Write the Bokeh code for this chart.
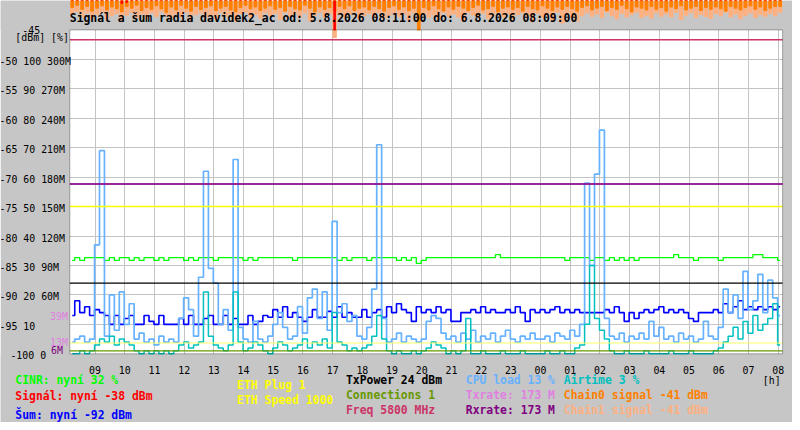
import numpy as np
from bokeh.plotting import figure
from bokeh.models import Range1d, Label, BoxAnnotation, FixedTicker
from bokeh.embed import file_html
from bokeh.resources import INLINE

# ---------------- data ----------------
title_text = "Signál a šum radia davidek2_ac od: 5.8.2026 08:11:00 do: 6.8.2026 08:09:00"
hour_ticks = list(range(9, 33))
hour_labels = ["09", "10", "11", "12", "13", "14", "15", "16", "17", "18", "19", "20",
               "21", "22", "23", "00", "01", "02", "03", "04", "05", "06", "07", "08"]
y_ticks_dbm = [-100, -95, -90, -85, -80, -75, -70, -65, -60, -55, -50]
y_tick_labels = ["-100 0", "-95 10", "-90 20 60M", "-85 30 90M", "-80 40 120M", "-75 50 150M",
                 "-70 60 180M", "-65 70 210M", "-60 80 240M", "-55 90 270M", "-50 100 300M"]
top_tick_dbm = -45
top_tick_label = "-45"
units_label = "[dBm] [%]"
rate_marks_violet = [39, 13]
rate_marks_purple = [6]

start_h = 8.15     # 08:09
end_h = 32.15      # 08:09 next day

# 10-minute samples (144)
cinr = [31.7, 32.7, 31.7, 32.7, 32.7, 32.7, 32.7, 31.7, 32.7, 31.7,
        32.7, 32.7, 31.7, 32.7, 31.7, 32.7, 32.7, 31.7, 32.7, 31.7,
        32.7, 32.7, 32.7, 31.7, 32.7, 31.7, 32.7, 32.7, 32.7, 31.7,
        32.7, 32.7, 32.7, 32.7, 32.7, 31.7, 32.7, 31.7, 32.7, 32.7,
        32.7, 32.7, 32.7, 32.7, 32.7, 31.7, 32.7, 32.7, 32.7, 32.7,
        32.7, 32.7, 32.7, 32.7, 31.7, 32.7, 31.7, 32.7, 32.7, 32.7,
        31.7, 32.7, 32.7, 32.7, 32.7, 32.7, 31.7, 32.7, 31.7, 32.7,
        30.7, 31.7, 32.7, 32.7, 32.7, 32.7, 32.7, 32.7, 32.7, 32.7,
        32.7, 32.7, 32.7, 32.7, 32.7, 32.7, 33.7, 32.7, 32.7, 32.7,
        32.7, 32.7, 32.7, 32.7, 32.7, 32.7, 32.7, 32.7, 32.7, 32.7,
        31.7, 32.7, 32.7, 32.7, 32.7, 31.7, 32.7, 32.7, 31.7, 32.7,
        31.7, 32.7, 31.7, 32.7, 31.7, 32.7, 32.7, 32.7, 32.7, 32.7,
        32.7, 32.7, 33.7, 32.7, 32.7, 32.7, 31.7, 32.7, 32.7, 32.7,
        32.7, 31.7, 32.7, 32.7, 32.7, 32.7, 32.7, 32.7, 33.7, 33.7,
        32.7, 32.7, 32.7, 31.7]

noise = [-93.5, -91, -93, -92, -93.5, -92.5, -93, -93.5,
         -95, -93.5, -95, -94, -93.5, -95, -95, -93.5, -94.5, -95, -93.5, -95, -95, -95, -94, -95,
         -93.5, -95, -95, -94, -93.5, -95, -95, -93.5, -95, -94, -95, -95, -93.5, -95, -94.5, -93.5,
         -93.8, -92.5, -93.8, -92, -93.8, -93, -93.8, -94.5, -93.8, -92.5, -93.8, -93.8, -92.8, -93.8,
         -92, -93.8, -93, -93.8, -93.8, -92.5, -93.8, -93, -92.5, -93.8,
         -92, -93, -91.5, -92.5, -93, -94.5, -92, -93,
         -92.5, -93, -92, -93, -92.5, -94.5, -94.5, -93,
         -93, -92.5, -93, -92, -93, -92.5, -93, -93,
         -92.5, -93, -92, -93, -94.5, -92.5, -93, -92.5,
         -93, -92.5, -92, -93, -92.5, -93, -92.5, -93,
         -93, -93, -93, -93,
         -92.5, -93, -92, -93, -94.5, -93, -94, -93,
         -92.5, -93, -92.5, -92, -93, -92.5, -93, -92.5,
         -93, -94, -94.5, -93,
         -93, -93, -92.5, -93,
         -91.5, -93, -92, -91, -92.5, -92, -92.5, -92, -92.5, -92, -92.5, -92]

cpu_load = [4, 5, 6, 4, 5, 37, 69, 6, 20, 8,
            21, 10, 17, 5, 7, 4, 5, 3, 6, 4,
            5, 4, 12, 19, 15, 6, 26, 62, 29, 24,
            10, 15, 8, 66, 9, 5, 4, 11, 5, 4,
            6, 10, 14, 9, 5, 6, 16, 7, 19, 22,
            12, 21, 8, 45, 14, 17, 11, 13, 6, 5,
            9, 22, 71, 12, 4, 5, 7, 4, 6, 5,
            4, 5, 11, 13, 12, 7, 5, 6, 4, 7,
            5, 8, 4, 6, 5, 7, 4, 6, 8, 5,
            4, 6, 5, 7, 5, 5, 6, 4, 7, 6,
            5, 8, 6, 10, 58, 30, 61, 76, 12, 6,
            5, 7, 4, 6, 5, 7, 5, 11, 6, 9,
            5, 6, 4, 7, 5, 6, 4, 5, 11, 6,
            5, 9, 22, 14, 20, 12, 28, 15, 18, 27,
            14, 25, 19, 13]

airtime = [0, 0, 1, 0, 1, 3, 5, 4, 6, 3,
           5, 4, 3, 1, 0, 1, 0, 1, 0, 1,
           0, 1, 3, 4, 2, 3, 4, 21, 6, 3,
           2, 1, 3, 21, 4, 1, 2, 4, 3, 1,
           0, 2, 4, 3, 1, 2, 3, 5, 2, 4,
           3, 5, 2, 14, 4, 3, 1, 2, 1, 2,
           3, 6, 13, 5, 1, 0, 1, 0, 0, 1,
           0, 1, 2, 4, 3, 2, 0, 1, 0, 1,
           12, 0, 0, 1, 0, 0, 0, 1, 0, 0,
           0, 1, 0, 0, 0, 0, 1, 0, 0, 1,
           0, 0, 2, 3, 10, 30, 12, 8, 5, 1,
           0, 0, 1, 0, 0, 0, 1, 0, 0, 0,
           0, 1, 0, 0, 0, 1, 0, 0, 0, 0,
           1, 2, 4, 6, 9, 5, 11, 7, 13, 8,
           10, 12, 17, 3]

chain0_signal = [-41.2, -40.8, -41.5, -41.0, -41.8, -41.3, -40.9, -41.6, -41.1, -41.4,
                 -41.9, -41.0, -41.3, -40.8, -41.7, -41.2, -41.5, -40.9, -41.4, -42.0,
                 -41.1, -41.6, -40.8, -41.3, -41.8, -41.0, -41.5, -41.2, -40.9, -41.7,
                 -41.3, -41.0, -41.6, -41.9, -41.2, -40.8, -41.4, -41.1, -41.7, -41.3,
                 -40.9, -41.5, -41.2, -41.8, -41.0, -41.4, -41.6, -40.8, -41.3, -41.9,
                 -41.1, -41.5, -41.2, -41.8, -41.0, -41.4, -40.9, -41.7, -41.3, -41.1,
                 -41.6, -41.0, -41.4, -41.8, -41.2, -40.9, -41.5, -41.1, -41.7, -41.3,
                 -45.0, -41.2, -41.6, -40.9, -41.4, -41.8, -41.1, -41.5, -41.0, -41.3,
                 -41.7, -41.2, -40.8, -41.6, -41.4, -41.0, -41.9, -41.3, -41.1, -41.5,
                 -41.2, -41.8, -41.0, -41.4, -41.6, -40.9, -41.3, -41.7, -41.1, -41.5,
                 -41.0, -41.4, -41.8, -41.2, -40.9, -41.6, -41.3, -41.0, -41.7, -41.2,
                 -41.5, -40.8, -41.4, -41.9, -41.1, -41.3, -41.6, -41.0, -41.5, -41.2,
                 -41.8, -41.1, -41.4, -40.9, -41.6, -41.3, -41.0, -41.7, -41.2, -41.5,
                 -41.1, -41.4, -41.8, -41.0, -41.3, -41.6, -41.2, -40.9, -41.5, -41.1,
                 -41.7, -41.3, -41.0, -41.0]

chain1_signal = [-42.3, -41.9, -42.8, -42.1, -43.0, -42.4, -42.0, -43.2, -42.6, -42.2,
                 -43.4, -42.5, -42.0, -42.9, -42.3, -43.1, -42.1, -42.7, -41.9, -42.6,
                 -43.0, -42.2, -42.8, -42.0, -43.3, -42.4, -42.1, -42.9, -42.5, -43.1,
                 -42.0, -42.7, -42.3, -43.5, -42.2, -42.0, -42.8, -42.4, -43.0, -42.1,
                 -42.6, -42.2, -43.2, -42.0, -42.7, -42.3, -42.9, -42.1, -43.4, -42.5,
                 -42.0, -42.8, -42.3, -46.3, -42.2, -42.9, -42.4, -42.0, -43.1, -42.6,
                 -42.2, -42.8, -42.0, -43.0, -42.5, -42.1, -42.7, -42.3, -43.3, -42.0,
                 -42.6, -42.2, -42.9, -42.4, -43.1, -42.0, -42.7, -42.3, -42.8, -43.4,
                 -42.1, -42.5, -42.9, -42.2, -43.0, -42.6, -42.0, -42.8, -42.3, -43.2,
                 -42.4, -42.1, -42.7, -43.6, -42.2, -42.9, -42.5, -43.3, -42.0, -43.8,
                 -42.4, -42.9, -43.5, -42.6, -42.1, -42.7, -42.3, -42.9, -42.0, -42.6,
                 -43.1, -42.2, -42.8, -42.4, -42.0, -42.9, -42.5, -43.0, -42.1, -42.7,
                 -42.3, -42.8, -42.0, -43.2, -42.5, -42.1, -42.9, -42.4, -42.7, -43.0,
                 -42.2, -42.6, -42.0, -42.8, -42.3, -43.1, -42.5, -42.1, -42.9, -42.4,
                 -42.7, -42.2, -42.6, -42.0]

signal = [-38, -38, -38, -38, -38, -38, -38, -38, -38, -38,
          -40.5, -40.3, -38, -38, -38, -38, -38, -38, -38, -38,
          -38, -38, -38, -38, -38, -38, -38, -38, -38, -38,
          -38, -38, -38, -38, -38, -38, -38, -38, -38, -38,
          -38, -38, -38, -38, -38, -38, -38, -38, -38, -38,
          -38, -38, -38, -45, -38, -38, -38, -38, -38, -38,
          -38, -38, -38, -38, -38, -38, -38, -38, -38, -38,
          -38, -38, -38, -38, -38, -38, -38, -38, -38, -38,
          -38, -38, -38, -38, -38, -38, -38, -38, -38, -38,
          -38, -38, -38, -38, -38, -38, -38, -38, -38, -38,
          -38, -38, -38, -38, -38, -38, -38, -38, -38, -38,
          -38, -38, -38, -38, -38, -38, -38, -38, -38, -38,
          -38, -38, -38, -38, -38, -38, -38, -38, -38, -38,
          -38, -38, -38, -38, -38, -38, -38, -38, -38, -38,
          -38, -38, -38, -38]

# constant levels (as plotted)
txpower_pct = 24
connections_pct = 1
rate_mbit = 173
eth_speed_plot_mbit = 150
eth_plug_plot_mbit = 11
freq_plot_mbit = 320

# "now" values of the legend
cinr_now, signal_now, noise_now = 32, -38, -92
eth_plug, eth_speed = 1, 1000
txpower_now, connections_now, freq_now = 24, 1, 5800
cpu_now, txrate_now, rxrate_now = 13, 173, 173
airtime_now, chain0_now, chain1_now = 3, -41, -41

# ---------------- figure ----------------
# The whole canvas is the frame; the plot area is -100..-45 dBm x start..end.
PX_PER_H = 30.0
PX_PER_DB = 6.0
LEFT_PX, RIGHT_PX, BOTTOM_PX = 70, 10, 70
Y_TOP = -45 + 30 / PX_PER_DB          # grey strip above the plot area
Y_BOT = -100 - BOTTOM_PX / PX_PER_DB
X_LEFT = start_h - LEFT_PX / PX_PER_H
X_RIGHT = end_h + RIGHT_PX / PX_PER_H

N = len(cpu_load)
step_h = (end_h - start_h) / N
t = start_h + (np.arange(N) + 0.5) * step_h
x_ends = [start_h, end_h]

BG = "#c6c6c6"
FONT = "DejaVu Sans Mono"
BOLD_SIZE = "11.4px"
NORM_SIZE = "9.9px"


def hx(px):   # horizontal text position (reference pixels) -> hours
    return start_h + (px - LEFT_PX) / PX_PER_H


def dy(py):   # vertical text position (reference pixels) -> dBm
    return Y_TOP - py / PX_PER_DB


p = figure(width=792, height=422, output_backend="svg", toolbar_location=None,
           x_range=Range1d(X_LEFT, X_RIGHT), y_range=Range1d(Y_BOT, Y_TOP),
           x_axis_location=None, y_axis_location=None, min_border=0)
p.title.visible = False
p.extra_y_ranges = {"pct": Range1d((Y_BOT + 100) * 2, (Y_TOP + 100) * 2),
                    "mbit": Range1d((Y_BOT + 100) * 6, (Y_TOP + 100) * 6)}
p.border_fill_color = BG
p.background_fill_color = "white"
p.outline_line_color = None

p.xgrid.ticker = FixedTicker(ticks=hour_ticks)
p.ygrid.ticker = FixedTicker(ticks=y_ticks_dbm[1:])
for g in (p.xgrid, p.ygrid):
    g.grid_line_color = "#c4c4c4"
    g.grid_line_width = 1
    g.level = "image"

# grey surround of the plot area (over the grid, under the data)
for kw in (dict(bottom=-45), dict(top=-100), dict(right=start_h), dict(left=end_h)):
    p.add_layout(BoxAnnotation(fill_color=BG, fill_alpha=1, line_color=None, level="underlay", **kw))

# series
p.step(t, cinr, mode="center", color="#00ff00", line_width=1.3, y_range_name="pct")
p.step(t, noise, mode="center", color="#0000ff", line_width=1.6)
p.step(t, cpu_load, mode="center", color="#66b2ff", line_width=1.7, y_range_name="pct")
p.step(t, airtime, mode="center", color="#00c0c0", line_width=1.5, y_range_name="pct")

p.vbar(x=t, width=step_h * 0.7, top=Y_TOP, bottom=chain1_signal, color="#ffb080")
p.vbar(x=t, width=step_h * 0.55, top=Y_TOP, bottom=chain0_signal, color="#ff8000")
p.vbar(x=t, width=step_h * 0.3, top=Y_TOP, bottom=signal, color="#ff0000")

# constant lines
def level_line(v, color, width, rng):
    p.line(x_ends, [v, v], line_color=color, line_width=width, y_range_name=rng)


level_line(freq_plot_mbit, "#cc3366", 1.3, "mbit")
level_line(eth_speed_plot_mbit, "#ffff00", 1.5, "mbit")
level_line(eth_plug_plot_mbit, "#ffff66", 1.0, "mbit")
level_line(rate_mbit, "#e080e0", 1.3, "mbit")
level_line(rate_mbit, "#800080", 1.3, "mbit")
level_line(txpower_pct, "black", 1.3, "pct")
level_line(connections_pct, "#669900", 1.3, "pct")

# plot border
p.add_layout(BoxAnnotation(bottom=-100, top=-45, left=start_h, right=end_h, fill_alpha=0,
                           line_color="black", line_width=1, level="overlay"))


def text(txt, x, y, color, bold=True, align="left", y_range_name="default", y_offset=0):
    p.add_layout(Label(x=x, y=y, text=txt, text_color=color, text_font=FONT,
                       text_font_size=BOLD_SIZE if bold else NORM_SIZE,
                       text_font_style="bold" if bold else "normal",
                       text_baseline="middle", text_align=align,
                       y_range_name=y_range_name, y_offset=y_offset))


# y tick labels
for v, lab in zip(y_ticks_dbm, y_tick_labels):
    text(lab, hx(10 if v == -100 else -1), v, "black", bold=False, y_offset=-2)
text(top_tick_label, hx(22), top_tick_dbm, "black", bold=False)
text(units_label, hx(15), dy(38), "black", bold=False)
for m in rate_marks_violet:
    text(f"{m}M", hx(50), m, "#e080e0", bold=False, y_range_name="mbit", y_offset=-1)
for m in rate_marks_purple:
    text(f"{m}M", hx(51), m, "#800080", bold=False, y_range_name="mbit", y_offset=-3)

# x tick labels
for h, lab in zip(hour_ticks, hour_labels):
    text(lab, h, dy(377), "black", bold=False, align="center")
text("[h]", hx(770), dy(387), "black", bold=False)

text(title_text, hx(70), dy(18), "black")
text(f"CINR: nyní {cinr_now} %", hx(15), dy(387), "#00ff00")
text(f"Signál: nyní {signal_now} dBm", hx(15), dy(403), "#ff0000")
text(f"Šum: nyní {noise_now} dBm", hx(15), dy(422), "#0000ff")
text(f"ETH Plug {eth_plug}", hx(239), dy(392), "#ffff00")
text(f"ETH Speed {eth_speed}", hx(239), dy(407), "#ffff00")
text(f"TxPower {txpower_now} dBm", hx(349), dy(387), "black")
text(f"Connections {connections_now}", hx(349), dy(402), "#669900")
text(f"Freq {freq_now} MHz", hx(349), dy(417), "#cc3366")
text(f"CPU load {cpu_now} %", hx(470), dy(387), "#66b2ff")
text(f"Txrate: {txrate_now} M", hx(470), dy(402), "#e080e0")
text(f"Rxrate: {rxrate_now} M", hx(470), dy(417), "#800080")
text(f"Airtime {airtime_now} %", hx(569), dy(387), "#00c0c0")
text(f"Chain0 signal {chain0_now} dBm", hx(569), dy(402), "#ff8000")
text(f"Chain1 signal {chain1_now} dBm", hx(569), dy(417), "#ffb080")

open("out.html", "w").write(file_html(p, INLINE))
